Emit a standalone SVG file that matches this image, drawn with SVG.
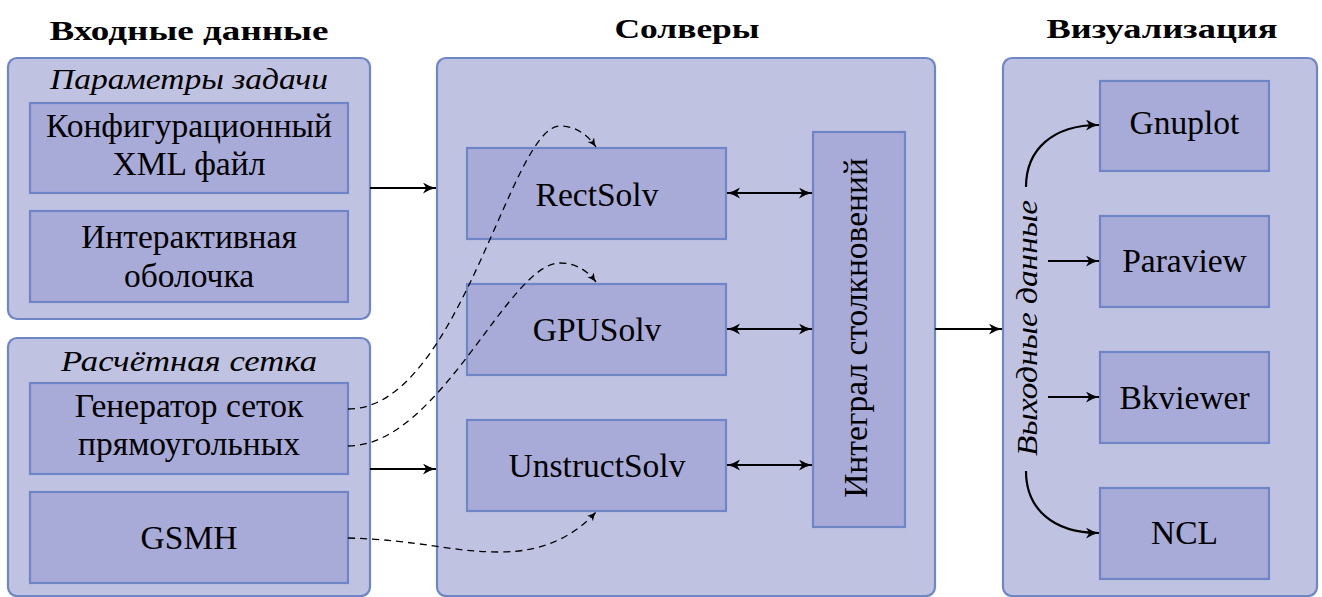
<svg xmlns="http://www.w3.org/2000/svg" width="1322" height="597" viewBox="0 0 1322 597">
<style>
.cont{fill:#c0c2e2;stroke:#6f86c6;stroke-width:2.2}
.box{fill:#a8aad8;stroke:#6f86c6;stroke-width:2.2}
text{font-family:"Liberation Serif","Times New Roman",Times,serif;fill:#000;text-anchor:middle}
.t{font-size:33.5px}
.h{font-size:28px;font-weight:bold}
.i{font-size:29px;font-style:italic}
.c{fill:none;stroke:#000;stroke-width:2.2}
.d{fill:none;stroke:#000;stroke-width:1.3;stroke-dasharray:7 5}
</style>
<defs>
<marker id="ah" markerUnits="userSpaceOnUse" markerWidth="14" markerHeight="12" refX="13" refY="5.5" orient="auto-start-reverse" viewBox="0 0 14 12">
<path d="M0,0 Q6.5,4.2 13,5.5 Q6.5,6.8 0,11 L3.2,5.5 z" fill="#000"/>
</marker>
<marker id="ahs" markerUnits="userSpaceOnUse" markerWidth="10" markerHeight="9" refX="9" refY="4" orient="auto" viewBox="0 0 10 9">
<path d="M0,0 Q4.5,3 9,4 Q4.5,5 0,8 L2.2,4 z" fill="#000"/>
</marker>
</defs>

<g id="headings">
<text class="h" x="189" y="40" textLength="279" lengthAdjust="spacingAndGlyphs">Входные данные</text>
<text class="h" x="687" y="38" textLength="145" lengthAdjust="spacingAndGlyphs">Солверы</text>
<text class="h" x="1162" y="38" textLength="231" lengthAdjust="spacingAndGlyphs">Визуализация</text>
</g>

<g id="params">
<rect class="cont" x="8" y="58" width="362" height="261" rx="9"/>
<text class="i" x="189" y="89" textLength="278" lengthAdjust="spacingAndGlyphs">Параметры задачи</text>
</g>
<g id="config">
<rect class="box" x="30" y="103" width="318" height="90"/>
<text class="t" x="189" y="137">Конфигурационный</text>
<text class="t" x="189" y="175">XML файл</text>
</g>
<g id="shell">
<rect class="box" x="30" y="211" width="318" height="91"/>
<text class="t" x="189" y="248">Интерактивная</text>
<text class="t" x="189" y="287">оболочка</text>
</g>

<g id="mesh">
<rect class="cont" x="8" y="338" width="362" height="258" rx="9"/>
<text class="i" x="189" y="371" textLength="256" lengthAdjust="spacingAndGlyphs">Расчётная сетка</text>
</g>
<g id="gen">
<rect class="box" x="30" y="383" width="318" height="91"/>
<text class="t" x="189" y="417">Генератор сеток</text>
<text class="t" x="189" y="455">прямоугольных</text>
</g>
<g id="gsmh">
<rect class="box" x="30" y="492" width="318" height="91"/>
<text class="t" x="189" y="549">GSMH</text>
</g>

<g id="solvers">
<rect class="cont" x="437" y="58" width="498" height="538" rx="9"/>
</g>
<g id="rectsolv">
<rect class="box" x="467" y="148" width="259" height="91"/>
<text class="t" x="597" y="206">RectSolv</text>
</g>
<g id="gpusolv">
<rect class="box" x="467" y="284" width="259" height="91"/>
<text class="t" x="597" y="341">GPUSolv</text>
</g>
<g id="unstructsolv">
<rect class="box" x="467" y="420" width="259" height="91"/>
<text class="t" x="597" y="477">UnstructSolv</text>
</g>
<g id="integral">
<rect class="box" x="813" y="132" width="92" height="395"/>
<text class="t" transform="translate(867,328) rotate(-90)" x="0" y="0">Интеграл столкновений</text>
</g>

<g id="viz">
<rect class="cont" x="1003" y="58" width="314" height="538" rx="9"/>
<text class="i" transform="translate(1037,328) rotate(-90)" x="0" y="0" textLength="256" lengthAdjust="spacingAndGlyphs">Выходные данные</text>
</g>
<g id="gnuplot">
<rect class="box" x="1100" y="81" width="169" height="90"/>
<text class="t" x="1184.5" y="134">Gnuplot</text>
</g>
<g id="paraview">
<rect class="box" x="1100" y="216" width="169" height="91"/>
<text class="t" x="1184.5" y="272">Paraview</text>
</g>
<g id="bkviewer">
<rect class="box" x="1100" y="352" width="169" height="91"/>
<text class="t" x="1184.5" y="409">Bkviewer</text>
</g>
<g id="ncl">
<rect class="box" x="1100" y="488" width="169" height="91"/>
<text class="t" x="1184.5" y="544">NCL</text>
</g>

<g id="connectors">
<path class="c" d="M370,188 L436,188" marker-end="url(#ah)"/>
<path class="c" d="M370,469 L436,469" marker-end="url(#ah)"/>
<path class="c" d="M935,329 L1002,329" marker-end="url(#ah)"/>
<path class="c" d="M727,193 L812,193" marker-start="url(#ah)" marker-end="url(#ah)"/>
<path class="c" d="M727,329 L812,329" marker-start="url(#ah)" marker-end="url(#ah)"/>
<path class="c" d="M727,465 L812,465" marker-start="url(#ah)" marker-end="url(#ah)"/>
<path class="c" d="M1048,261 L1099,261" marker-end="url(#ah)"/>
<path class="c" d="M1048,397 L1099,397" marker-end="url(#ah)"/>
<path class="c" d="M1026,187 C1026,150 1052,125 1099,125" marker-end="url(#ah)"/>
<path class="c" d="M1026,471 C1026,508 1052,533 1099,533" marker-end="url(#ah)"/>
<path class="d" d="M348,409 C460,409 510,126 560,126 C575,126 587,134 596,147" marker-end="url(#ahs)"/>
<path class="d" d="M348,446 C440,446 508,263 560,263 C575,263 587,270 596,282" marker-end="url(#ahs)"/>
<path class="d" d="M348,538 C420,540 450,552 500,552 C545,552 575,535 596,512" marker-end="url(#ahs)"/>
</g>
</svg>
